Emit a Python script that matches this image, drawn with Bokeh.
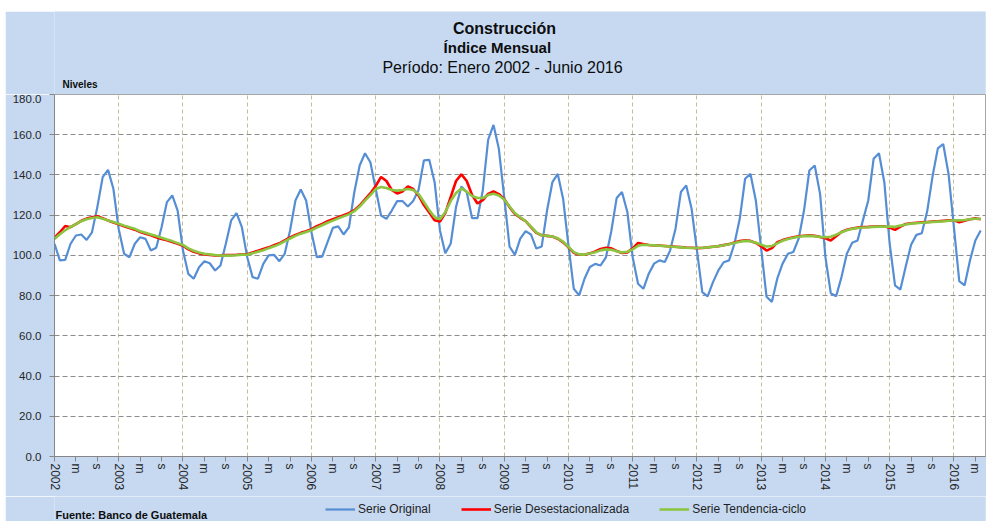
from bokeh.plotting import figure
from bokeh.layouts import column
from bokeh.models import Range1d, FixedTicker, Legend, LegendItem, NumeralTickFormatter
from bokeh.core.properties import value
from bokeh.embed import file_html
from bokeh.resources import INLINE

# ---------------- data ----------------
years = list(range(2002, 2017))
season_labels = ["m", "s"]          # mayo, septiembre
y_ticks = [0, 20, 40, 60, 80, 100, 120, 140, 160, 180]
series_names = ["Serie Original", "Serie Desestacionalizada", "Serie Tendencia-ciclo"]

serie_original = [
    105.8, 97.5, 97.8, 105.8, 109.9, 110.4, 107.7, 111.5, 124.0, 138.9, 142.5, 133.1,   # 2002
    113.0, 100.8, 99.1, 105.8, 109.0, 108.2, 102.4, 103.8, 114.0, 126.5, 129.8, 122.3,  # 2003
    102.4, 90.8, 88.4, 94.1, 97.1, 96.1, 92.5, 95.0, 105.8, 117.4, 121.0, 114.0,        # 2004
    99.1, 89.2, 88.4, 95.8, 100.0, 100.3, 97.1, 100.8, 112.4, 127.3, 132.8, 127.3,      # 2005
    111.5, 99.1, 99.4, 106.6, 113.7, 114.4, 110.4, 114.0, 131.4, 144.7, 150.8, 146.3,   # 2006
    133.0, 119.8, 118.2, 122.3, 127.0, 127.0, 124.3, 127.0, 132.5, 147.2, 147.5, 136.4, # 2007
    112.4, 101.1, 105.8, 124.0, 134.3, 131.4, 118.5, 118.5, 132.3, 157.5, 164.9, 153.0, # 2008
    129.0, 104.4, 100.3, 108.3, 112.1, 110.4, 103.4, 104.4, 122.3, 136.4, 140.5, 128.2, # 2009
    105.0, 83.4, 80.1, 88.4, 94.2, 95.8, 95.0, 99.0, 112.0, 128.5, 131.5, 121.6,        # 2010
    99.1, 85.9, 83.4, 90.9, 95.9, 97.5, 96.7, 102.5, 113.3, 131.5, 134.8, 123.2,        # 2011
    102.5, 81.7, 79.6, 86.7, 92.5, 96.6, 97.5, 105.8, 118.2, 138.1, 140.5, 127.3,       # 2012
    103.4, 79.4, 76.9, 88.4, 95.9, 100.8, 101.7, 108.3, 122.3, 142.2, 144.7, 130.6,     # 2013
    99.1, 81.2, 79.7, 89.2, 100.8, 106.3, 107.4, 117.4, 127.3, 148.0, 150.8, 136.4,     # 2014
    105.8, 85.1, 83.0, 94.5, 105.3, 110.2, 111.0, 121.8, 139.2, 153.2, 155.4, 140.5,    # 2015
    114.0, 87.2, 85.1, 97.5, 107.4, 112.4,                                              # 2016
]

serie_desestacionalizada = [
    108.7, 111.5, 114.6, 114.0, 115.6, 117.2, 118.3, 119.0, 119.5, 118.5, 117.3, 116.4,
    115.5, 114.5, 113.6, 112.8, 111.6, 110.8, 110.0, 109.0, 108.2, 107.5, 106.6, 105.8,
    104.8, 103.0, 101.8, 101.0, 100.5, 100.2, 100.0, 100.0, 100.2, 100.2, 100.3, 100.5,
    100.6, 101.5, 102.3, 103.2, 104.0, 105.0, 106.0, 107.5, 108.9, 110.2, 111.2, 112.0,
    113.0, 114.5, 115.7, 117.0, 118.0, 119.0, 120.0, 121.0, 122.5, 124.8, 127.8, 130.8,
    134.5, 139.0, 137.0, 132.5, 130.8, 131.8, 134.3, 133.0, 129.8, 125.0, 121.3, 117.5,
    116.8, 121.0, 129.0, 137.0, 140.3, 137.0, 130.0, 125.8, 127.5, 130.6, 131.8, 130.5,
    128.0, 124.0, 120.6, 118.7, 117.0, 114.1, 111.2, 110.0, 109.7, 109.4, 108.3, 106.5,
    104.0, 101.3, 100.3, 100.3, 101.0, 102.0, 103.2, 103.8, 103.5, 102.2, 101.2, 101.5,
    103.5, 106.2, 105.6, 105.2, 105.0, 104.9, 104.7, 104.5, 104.3, 104.1, 103.9, 103.8,
    103.6, 103.7, 104.0, 104.3, 104.6, 105.1, 105.6, 106.4, 107.1, 107.5, 107.2, 106.2,
    104.5, 102.4, 103.6, 106.5, 107.6, 108.4, 109.0, 109.5, 109.8, 110.0, 109.7, 109.2,
    108.5, 107.4, 109.5, 111.6, 112.8, 113.4, 113.8, 114.1, 114.2, 114.4, 114.5, 114.5,
    113.8, 112.7, 114.3, 115.6, 116.0, 116.2, 116.4, 116.6, 116.8, 117.0, 117.2, 117.4,
    117.5, 116.5, 117.2, 118.0, 118.4, 118.0,
]

serie_tendencia = [
    108.2, 110.5, 112.5, 114.2, 115.5, 117.0, 118.0, 118.6, 119.0, 118.2, 117.4, 116.6,
    115.7, 114.8, 114.0, 113.2, 112.0, 111.2, 110.4, 109.6, 108.8, 107.9, 107.1, 106.1,
    105.2, 103.5, 102.3, 101.4, 100.8, 100.5, 100.2, 100.0, 99.9, 99.9, 100.1, 100.4,
    100.3, 101.0, 101.8, 102.6, 103.6, 104.5, 105.6, 107.0, 108.4, 109.7, 110.8, 111.6,
    112.5, 113.8, 115.0, 116.2, 117.3, 118.4, 119.4, 120.4, 122.0, 124.3, 127.2, 130.0,
    133.0, 134.0, 133.5, 132.5, 132.2, 132.5, 133.0, 132.5, 130.5, 126.5, 122.5, 119.0,
    118.0, 121.5, 127.0, 131.0, 133.3, 131.7, 129.5, 128.5, 128.5, 130.0, 130.6, 129.8,
    127.8, 124.3, 121.0, 119.0, 117.0, 114.3, 111.5, 110.0, 109.7, 109.4, 108.5, 106.8,
    104.3, 101.6, 100.5, 100.4, 100.9, 101.6, 102.5, 103.0, 102.8, 102.0, 101.5, 101.8,
    103.0, 104.8, 105.3, 105.2, 105.0, 104.8, 104.6, 104.4, 104.2, 104.0, 103.8, 103.7,
    103.7, 103.8, 104.0, 104.3, 104.6, 105.0, 105.5, 106.2, 106.8, 107.2, 107.0, 106.3,
    105.3, 104.4, 104.7, 106.0, 107.3, 108.2, 108.8, 109.3, 109.6, 109.7, 109.5, 109.2,
    109.0, 109.3, 110.3, 111.5, 112.5, 113.2, 113.6, 113.9, 114.0, 114.2, 114.3, 114.4,
    114.3, 114.2, 114.8, 115.4, 115.8, 116.0, 116.2, 116.4, 116.6, 116.8, 116.9, 117.2,
    117.4, 117.4, 117.6, 118.0, 118.2, 118.2,
]

# ---------------- styling ----------------
FONT = "Liberation Sans"
BLUE_BG = "#C6D9F1"
C_ORIG, C_DES, C_TEN = "#558ED5", "#FF0000", "#8CC540"
W_ORIG, W_SMOOTH = 2.2, 2.6
TXT = "#0D0D0D"

n = len(serie_original)
x = list(range(n))


def blank_fig(height, y_top, y_bottom, margin):
    # frames of the column children are aligned with the main chart frame (x 54..985)
    f = figure(width=981, height=height, x_range=Range1d(54, 985), y_range=Range1d(y_bottom, y_top),
               x_axis_type=None, y_axis_type=None, output_backend="svg", toolbar_location=None,
               min_border_left=49, min_border_right=1, min_border_top=0, min_border_bottom=0,
               margin=margin)
    f.background_fill_color = BLUE_BG
    f.border_fill_color = BLUE_BG
    f.outline_line_color = None
    return f


def put_text(f, tx, ty, text, size, bold=False, align="center"):
    f.text(x=[tx], y=[ty], text=[text], text_align=align, text_baseline="middle",
           text_font=value(FONT), text_font_size=size,
           text_font_style="bold" if bold else "normal", text_color=TXT)


# ---- header (titles) ----
top = blank_fig(83, 11, 94, (11, 0, 0, 5))
put_text(top, 504, 28, "Construcción", "16px", bold=True)
put_text(top, 501, 47, "Índice   Mensual", "15px", bold=True)
put_text(top, 502, 67, "Período: Enero 2002 - Junio 2016", "16px")
put_text(top, 62, 84, "Niveles", "10px", bold=True, align="left")

# ---- main chart ----
p = figure(width=981, height=402, output_backend="svg", toolbar_location=None,
           x_range=Range1d(0, 173.9), y_range=Range1d(0, 180),
           min_border_left=49, min_border_right=1, min_border_top=0, min_border_bottom=40,
           margin=(0, 0, 0, 5))
p.border_fill_color = BLUE_BG
p.background_fill_color = "white"
p.outline_line_color = "#A6A6A6"

tick_pos = list(range(0, n, 4))
overrides = {}
for t in tick_pos:
    k = t % 12
    overrides[t] = str(years[t // 12]) if k == 0 else season_labels[k // 4 - 1]
p.xaxis.ticker = FixedTicker(ticks=tick_pos)
p.xaxis.major_label_overrides = overrides
p.xaxis.major_label_orientation = "vertical"
p.yaxis.ticker = FixedTicker(ticks=y_ticks)
p.yaxis.formatter = NumeralTickFormatter(format="0.0")

for ax in (p.xaxis, p.yaxis):
    ax.axis_line_color = "#868686"
    ax.major_tick_line_color = "#868686"
    ax.major_tick_in = 0
    ax.major_tick_out = 5
    ax.minor_tick_line_color = None
    ax.major_label_text_font = FONT
    ax.major_label_text_color = "#262626"
p.xaxis.major_label_text_font_size = "12px"
p.yaxis.major_label_text_font_size = "11.5px"
p.yaxis.major_label_standoff = 8
p.xaxis.major_label_standoff = 2

p.xgrid.ticker = FixedTicker(ticks=list(range(0, n, 12)))
p.xgrid.grid_line_color = "#C4BD97"
p.xgrid.grid_line_dash = "4 3"
p.ygrid.grid_line_color = "#8C8C8C"
p.ygrid.grid_line_dash = "5 3"

p.line(x, serie_original, line_color=C_ORIG, line_width=W_ORIG)
p.line(x, serie_desestacionalizada, line_color=C_DES, line_width=W_SMOOTH)
p.line(x, serie_tendencia, line_color=C_TEN, line_width=W_SMOOTH)

# ---- footer (legend + source) ----
bot = blank_fig(25, 496, 521, (0, 0, 0, 5))
# same series drawn here only to feed the legend (they fall outside this strip's range)
k1 = bot.line(x, serie_original, line_color=C_ORIG, line_width=W_ORIG)
k2 = bot.line(x, serie_desestacionalizada, line_color=C_DES, line_width=W_SMOOTH)
k3 = bot.line(x, serie_tendencia, line_color=C_TEN, line_width=W_SMOOTH)
legend = Legend(items=[LegendItem(label=series_names[0], renderers=[k1]),
                       LegendItem(label=series_names[1], renderers=[k2]),
                       LegendItem(label=series_names[2], renderers=[k3])],
                orientation="horizontal", location=(271, 5),
                glyph_width=30, glyph_height=14, label_height=14, label_standoff=3, spacing=30,
                padding=0, margin=0, border_line_color=None, background_fill_alpha=0,
                label_text_font=FONT, label_text_font_size="12px", label_text_color="#1F1F1F")
bot.add_layout(legend, "center")
put_text(bot, 55, 514, "Fuente:  Banco  de  Guatemala", "11px", bold=True, align="left")

layout = column(top, p, bot, spacing=0)
open("out.html", "w").write(file_html(layout, INLINE))
